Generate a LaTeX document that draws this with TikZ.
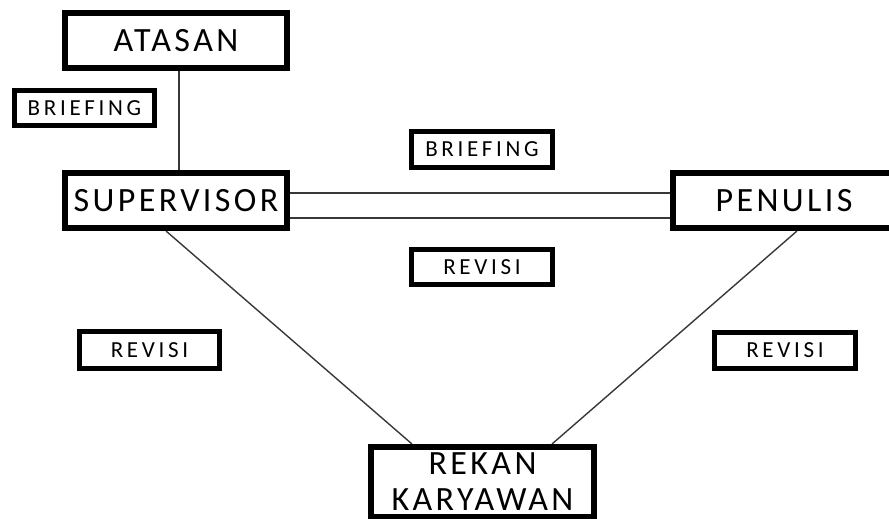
\documentclass[tikz,border=0pt]{standalone}
\usepackage{fontspec}
\setmainfont{Carlito}
\newfontfamily\bigf[LetterSpace=10]{Carlito}
\newfontfamily\smallf[LetterSpace=16]{Carlito}
\usetikzlibrary{calc,backgrounds}
\tikzset{
  bigbox/.style={draw=black, line width=6pt, fill=white, inner sep=0pt, font=\bigf\fontsize{34}{36}\selectfont, align=center},
  smallbox/.style={draw=black, line width=5pt, fill=white, inner sep=0pt, font=\smallf\fontsize{23}{26}\selectfont},
  conn/.style={draw=black!78, line width=1.4pt}
}
\begin{document}
\begin{tikzpicture}[x=1pt,y=-1pt]
\useasboundingbox (0,0) rectangle (889,519);
\clip (0,0) rectangle (889,519);
\node[bigbox, minimum width=222pt, minimum height=55pt] (atasan) at (176,40.5) {ATASAN};
\node[bigbox, minimum width=222pt, minimum height=55pt] (sup) at (176,200.5) {SUPERVISOR};
\node[bigbox, minimum width=222pt, minimum height=55pt] (pen) at (784,200.5) {PENULIS};
\node[bigbox, minimum width=223pt, minimum height=70pt] (rek) at (482.5,482) {REKAN\\KARYAWAN};
\node[smallbox, minimum width=140pt, minimum height=35pt] (b1) at (84.5,108) {BRIEFING};
\node[smallbox, minimum width=141pt, minimum height=36pt] (b2) at (482,149.5) {BRIEFING};
\node[smallbox, minimum width=141pt, minimum height=35pt] (r1) at (482,267) {REVISI};
\node[smallbox, minimum width=140pt, minimum height=37pt] (r2) at (149.5,350) {REVISI};
\node[smallbox, minimum width=141pt, minimum height=36pt] (r3) at (785,350.5) {REVISI};
\begin{scope}[on background layer]
\draw[conn] ([xshift=3pt]atasan.south) -- ([xshift=3pt]sup.north);
\draw[conn] ([yshift=7.5pt]sup.east) -- ([yshift=7.5pt]pen.west);
\draw[conn] ([yshift=-17.5pt]sup.east) -- ([yshift=-17.5pt]pen.west);
\draw[conn] ([xshift=-10pt]sup.south) -- ([xshift=-70.5pt]rek.north);
\draw[conn] ([xshift=13pt]pen.south) -- ([xshift=69.5pt]rek.north);
\end{scope}
\end{tikzpicture}
\end{document}
